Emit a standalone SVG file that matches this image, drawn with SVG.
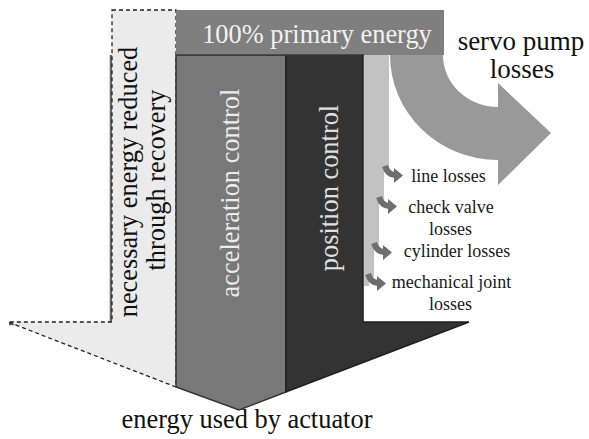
<svg xmlns="http://www.w3.org/2000/svg" width="589" height="439" viewBox="0 0 589 439" font-family="'Liberation Serif', 'DejaVu Serif', serif">
<style>
  text { font-family: 'Liberation Serif', 'DejaVu Serif', serif; }
  .dark { fill: #111; }
  .lbl { font-size: 18px; fill: #1a1a1a; text-anchor: middle; }
  .big { font-size: 26.4px; text-anchor: middle; }
  .sa { fill: #6e6e6e; }
</style>
<defs>
  <g id="smallArrow">
    <path d="M0,0 Q3,9 10,9" fill="none" stroke="#6e6e6e" stroke-width="6"/>
    <path class="sa" d="M9,2 L18,9.5 L9,17 Z"/>
  </g>
</defs>
<rect width="589" height="439" fill="#ffffff"/>

<g id="recovery">
  <path d="M111,55 V324 H9" fill="none" stroke="#666" stroke-width="2.5"/>
  <path d="M112,10 H176 V387 L8,322 H112 Z" fill="#ebebeb" stroke="#222" stroke-width="1.3" stroke-dasharray="4 3"/>
  <text class="big dark" transform="translate(137,182) rotate(-90)">necessary energy reduced</text>
  <text class="big dark" transform="translate(165,180) rotate(-90)">through recovery</text>
</g>

<g id="acceleration">
  <path d="M176,55 H286 V392 L239,410 L176,387 Z" fill="#787878" stroke="#333" stroke-width="1.5"/>
  <text class="big" fill="#ececec" transform="translate(239,193) rotate(-90)">acceleration control</text>
</g>

<g id="position">
  <path d="M286,55 H363 V322 H469 L286,392 Z" fill="#333333" stroke="#1e1e1e" stroke-width="1.5"/>
  <text class="big" fill="#e0e0e0" transform="translate(338,188) rotate(-90)">position control</text>
</g>

<g id="primary">
  <rect x="176" y="10" width="268" height="45" fill="#7f7f7f"/>
  <line x1="176" y1="55" x2="364" y2="55" stroke="#3a3a3a" stroke-width="1.5"/>
  <text class="big" x="317" y="43" fill="#f2f2f2" font-size="26.3">100% primary energy</text>
</g>

<g id="connectors">
  <path id="servoArrow" d="M390,55 A108,105 0 0 0 498,160 L498,185 L551,133 L498,83 L498,107 A55,52 0 0 1 443,55 Z" fill="#999999"/>
  <path id="lossStrip" d="M364,55 H389 V169 H384 V200 H379 V246 H374 V277 H369 V286 H364 Z" fill="#c2c2c2"/>
  <use href="#smallArrow" transform="translate(385,166)"/>
  <use href="#smallArrow" transform="translate(379,197)"/>
  <use href="#smallArrow" transform="translate(374,243)"/>
  <use href="#smallArrow" transform="translate(368,274)"/>
</g>

<g id="servoLabel">
  <text class="dark" x="521" y="50" font-size="27" text-anchor="middle">servo pump</text>
  <text class="dark" x="522" y="78" font-size="27" text-anchor="middle">losses</text>
</g>

<g id="lossLabels">
  <text class="lbl" x="448.5" y="182">line losses</text>
  <text class="lbl" x="451" y="213">check valve</text>
  <text class="lbl" x="450.5" y="235">losses</text>
  <text class="lbl" x="457" y="257">cylinder losses</text>
  <text class="lbl" x="451.5" y="288">mechanical joint</text>
  <text class="lbl" x="450.5" y="310">losses</text>
</g>

<g id="actuator">
  <text class="big dark" x="247" y="428" font-size="26.2">energy used by actuator</text>
</g>
</svg>
